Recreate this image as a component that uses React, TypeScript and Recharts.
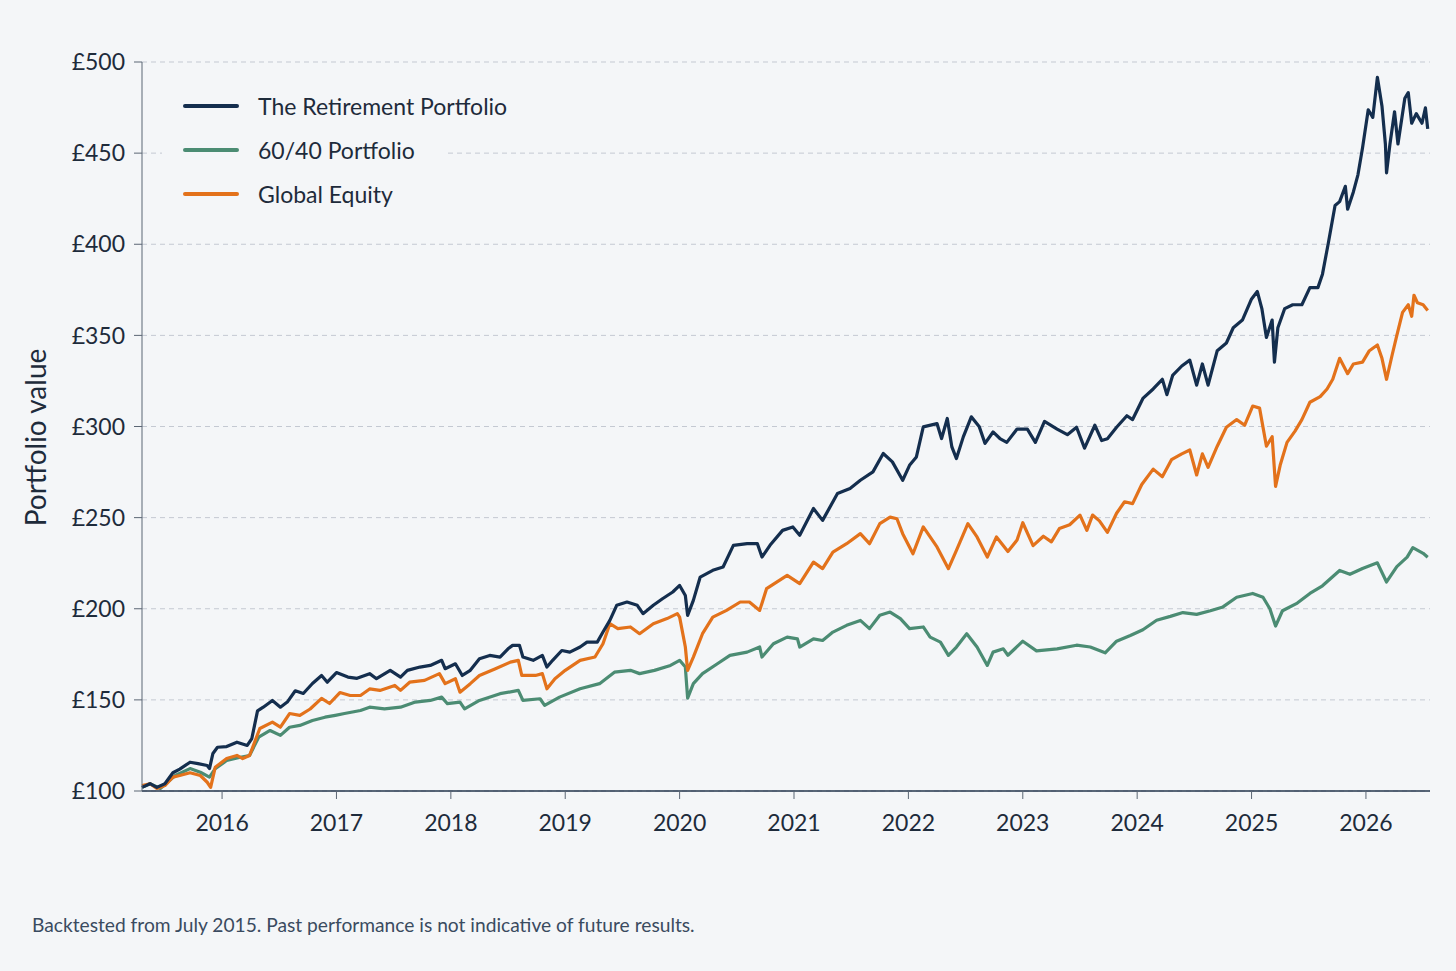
import React from 'react';
import { LineChart, Line, XAxis, YAxis, CartesianGrid } from 'recharts';

// [decimal year, value in £]
const retirementSeries: [number, number][] = [
  [2015.3, 102], [2015.37, 104], [2015.43, 102], [2015.5, 104], [2015.57, 110], [2015.63, 112],
  [2015.72, 115.8], [2015.79, 115], [2015.87, 114], [2015.89, 112.3], [2015.92, 120.6], [2015.96, 124],
  [2016.04, 124.4], [2016.13, 126.8], [2016.22, 125], [2016.26, 128.8], [2016.31, 144], [2016.36, 146],
  [2016.44, 149.7], [2016.51, 146], [2016.57, 148.8], [2016.64, 155], [2016.71, 153.5], [2016.79, 159],
  [2016.87, 163.4], [2016.92, 159.7], [2017.0, 165], [2017.1, 162.5], [2017.18, 161.8], [2017.29, 164.4],
  [2017.35, 161.6], [2017.47, 166.2], [2017.56, 162.5], [2017.62, 166.2], [2017.73, 168], [2017.82, 168.9],
  [2017.92, 171.7], [2017.95, 167.1], [2018.04, 169.8], [2018.1, 163.4], [2018.17, 166.2], [2018.25, 172.6],
  [2018.34, 174.4], [2018.43, 173.5], [2018.5, 178], [2018.54, 179.9], [2018.6, 179.9], [2018.63, 173.5],
  [2018.72, 171.7], [2018.8, 174.4], [2018.84, 168], [2018.89, 171.7], [2018.97, 177.1], [2019.04, 176.2],
  [2019.13, 179], [2019.19, 181.7], [2019.28, 181.7], [2019.33, 187.2], [2019.39, 193.6], [2019.45, 201.9],
  [2019.54, 203.7], [2019.63, 201.9], [2019.68, 197.3], [2019.77, 201.9], [2019.85, 205.5], [2019.94, 209.2],
  [2020.0, 212.8], [2020.05, 207.3], [2020.07, 196.4], [2020.12, 204.6], [2020.18, 217.4], [2020.29, 221.1],
  [2020.38, 222.9], [2020.47, 234.8], [2020.59, 235.7], [2020.68, 235.7], [2020.72, 228.4], [2020.79, 234.8],
  [2020.9, 243], [2020.99, 244.9], [2021.05, 240.3], [2021.17, 255], [2021.25, 248.5], [2021.38, 263.2],
  [2021.49, 266], [2021.58, 270.5], [2021.69, 275.1], [2021.78, 285.2], [2021.86, 280.6], [2021.95, 270.5],
  [2022.01, 278.7], [2022.07, 283.3], [2022.13, 299.8], [2022.25, 301.6], [2022.29, 293.4], [2022.34, 304.4],
  [2022.38, 288.8], [2022.42, 282.4], [2022.48, 294.3], [2022.55, 305.3], [2022.62, 299.8], [2022.67, 290.7],
  [2022.74, 297], [2022.8, 293.4], [2022.86, 291.3], [2022.95, 298.6], [2023.04, 298.6], [2023.11, 291.3],
  [2023.19, 302.8], [2023.3, 298.6], [2023.39, 295.5], [2023.47, 299.6], [2023.54, 288.1], [2023.63, 300.7],
  [2023.69, 292.3], [2023.74, 293.3], [2023.82, 299.6], [2023.91, 305.9], [2023.96, 303.8], [2024.05, 315.4],
  [2024.14, 320.6], [2024.22, 325.9], [2024.26, 317.5], [2024.31, 328], [2024.39, 333.2], [2024.46, 336.4],
  [2024.52, 322.7], [2024.57, 334.3], [2024.62, 322.7], [2024.7, 341.6], [2024.78, 345.8], [2024.84, 354.2],
  [2024.92, 358.4], [2025.0, 370], [2025.05, 374.1], [2025.09, 364.7], [2025.13, 348.9], [2025.18, 358.4],
  [2025.2, 335.3], [2025.23, 354.2], [2025.29, 364.7], [2025.36, 366.8], [2025.44, 366.8], [2025.51, 376.2],
  [2025.58, 376.2], [2025.62, 383.6], [2025.67, 400.3], [2025.73, 421.3], [2025.77, 423.4], [2025.82, 431.8],
  [2025.84, 419.2], [2025.89, 428.7], [2025.93, 438.1], [2025.97, 452.8], [2026.02, 473.8], [2026.06, 469.6],
  [2026.1, 491.6], [2026.14, 475.9], [2026.17, 455], [2026.18, 439.2], [2026.21, 455], [2026.25, 472.7],
  [2026.28, 455], [2026.34, 480.1], [2026.37, 483.2], [2026.4, 466.4], [2026.44, 471.7], [2026.49, 466.4],
  [2026.52, 474.8], [2026.54, 463.3],
];

const sixtyFortySeries: [number, number][] = [
  [2015.3, 102], [2015.37, 104], [2015.46, 101.4], [2015.59, 108.5], [2015.72, 112.3], [2015.81, 110.3],
  [2015.89, 107.6], [2015.94, 112.3], [2016.04, 116.7], [2016.16, 118.5], [2016.24, 119.5], [2016.32, 129.5],
  [2016.42, 133.2], [2016.51, 130.5], [2016.59, 135], [2016.68, 136], [2016.79, 138.7], [2016.9, 140.5],
  [2016.99, 141.5], [2017.07, 142.5], [2017.21, 144.2], [2017.29, 146], [2017.42, 145.1], [2017.56, 146],
  [2017.69, 148.8], [2017.82, 149.7], [2017.92, 151.5], [2017.97, 147.9], [2018.08, 148.8], [2018.12, 145.1],
  [2018.25, 149.7], [2018.43, 153.4], [2018.59, 155.2], [2018.63, 149.7], [2018.78, 150.6], [2018.82, 147],
  [2018.95, 151.5], [2019.13, 156.1], [2019.3, 158.9], [2019.43, 165.2], [2019.57, 166.2], [2019.65, 164.4],
  [2019.78, 166.2], [2019.92, 168.9], [2020.0, 171.7], [2020.05, 168], [2020.07, 151], [2020.12, 158.9],
  [2020.2, 164.4], [2020.33, 169.8], [2020.44, 174.4], [2020.59, 176.2], [2020.7, 179], [2020.72, 173.5],
  [2020.82, 180.8], [2020.94, 184.4], [2021.03, 183.5], [2021.05, 179], [2021.17, 183.5], [2021.25, 182.6],
  [2021.34, 187.2], [2021.46, 190.9], [2021.58, 193.6], [2021.66, 189.1], [2021.75, 196.4], [2021.84, 198.2],
  [2021.93, 194.6], [2022.01, 189.1], [2022.13, 190], [2022.19, 184.4], [2022.28, 181.7], [2022.35, 174.4],
  [2022.42, 179], [2022.51, 186.3], [2022.6, 179], [2022.69, 168.9], [2022.74, 176.2], [2022.83, 178],
  [2022.87, 174.5], [2023.0, 182.2], [2023.12, 176.9], [2023.3, 178], [2023.47, 180], [2023.59, 179],
  [2023.72, 175.8], [2023.82, 182.2], [2023.94, 185.3], [2024.05, 188.5], [2024.17, 193.7], [2024.29, 195.8],
  [2024.4, 197.9], [2024.52, 196.9], [2024.64, 198.9], [2024.75, 201], [2024.87, 206.3], [2025.01, 208.4],
  [2025.1, 206.3], [2025.16, 200], [2025.21, 190.5], [2025.27, 198.9], [2025.4, 203.1], [2025.51, 208.4],
  [2025.62, 212.6], [2025.77, 221], [2025.86, 218.9], [2025.97, 222.1], [2026.1, 225.2], [2026.18, 214.7],
  [2026.27, 223.1], [2026.36, 228.3], [2026.41, 233.5], [2026.5, 230.4], [2026.54, 228.3],
];

const globalEquitySeries: [number, number][] = [
  [2015.3, 103], [2015.37, 104], [2015.43, 101.4], [2015.5, 103], [2015.57, 107.6], [2015.63, 108.5],
  [2015.72, 110], [2015.81, 108.5], [2015.87, 104.8], [2015.9, 102], [2015.94, 113], [2016.04, 117.8],
  [2016.13, 119.5], [2016.18, 117.8], [2016.24, 119.5], [2016.29, 127.7], [2016.33, 134.3], [2016.44, 137.8],
  [2016.51, 135], [2016.59, 142.5], [2016.68, 141.5], [2016.77, 145], [2016.87, 150.8], [2016.94, 148],
  [2017.03, 154], [2017.12, 152.4], [2017.21, 152.4], [2017.29, 156], [2017.38, 155.2], [2017.51, 157.9],
  [2017.56, 155.2], [2017.64, 159.7], [2017.77, 160.7], [2017.9, 164.4], [2017.95, 158.9], [2018.04, 161.6],
  [2018.08, 154.2], [2018.17, 158.9], [2018.25, 163.4], [2018.39, 167.1], [2018.52, 170.7], [2018.59, 171.7],
  [2018.62, 163.4], [2018.74, 163.4], [2018.8, 164.4], [2018.84, 156.1], [2018.91, 161.6], [2019.0, 166.2],
  [2019.13, 171.7], [2019.26, 173.5], [2019.33, 180.8], [2019.39, 191.8], [2019.46, 189.1], [2019.57, 190],
  [2019.65, 186.3], [2019.77, 191.8], [2019.89, 194.6], [2019.98, 197.3], [2020.0, 195.4], [2020.05, 179],
  [2020.07, 166.2], [2020.12, 173.5], [2020.2, 186.3], [2020.29, 195.4], [2020.41, 199.1], [2020.53, 203.7],
  [2020.61, 203.7], [2020.7, 199.1], [2020.76, 211], [2020.94, 218.3], [2021.05, 213.8], [2021.17, 225.6],
  [2021.25, 222], [2021.34, 231.1], [2021.46, 235.7], [2021.58, 241.2], [2021.66, 235.7], [2021.75, 246.7],
  [2021.84, 250.3], [2021.9, 249.4], [2021.95, 241.2], [2022.04, 230.2], [2022.13, 244.9], [2022.25, 233.9],
  [2022.35, 222], [2022.42, 232], [2022.52, 246.7], [2022.6, 239.4], [2022.69, 228.4], [2022.77, 239.4],
  [2022.87, 231.4], [2022.95, 237.7], [2023.0, 247.2], [2023.09, 234.6], [2023.18, 239.8], [2023.25, 236.7],
  [2023.32, 244], [2023.41, 246.1], [2023.5, 251.4], [2023.56, 243], [2023.61, 251.4], [2023.67, 248.2],
  [2023.74, 241.9], [2023.82, 252.4], [2023.89, 258.7], [2023.96, 257.7], [2024.04, 268.2], [2024.14, 276.6],
  [2024.22, 272.4], [2024.3, 281.8], [2024.39, 285], [2024.46, 287.1], [2024.52, 273.4], [2024.57, 285],
  [2024.62, 277.6], [2024.7, 289.2], [2024.78, 299.6], [2024.87, 303.8], [2024.94, 300.7], [2025.01, 311.2],
  [2025.07, 310.1], [2025.13, 289.2], [2025.18, 294.4], [2025.21, 267.1], [2025.25, 278.7], [2025.31, 291.3],
  [2025.38, 297.5], [2025.44, 303.8], [2025.51, 313.3], [2025.6, 316.4], [2025.66, 320.6], [2025.71, 325.9],
  [2025.77, 337.4], [2025.84, 329], [2025.89, 334.3], [2025.97, 335.3], [2026.03, 341.6], [2026.1, 344.7],
  [2026.14, 337.4], [2026.18, 325.9], [2026.23, 339.5], [2026.27, 350], [2026.32, 362.6], [2026.37, 366.8],
  [2026.4, 360.5], [2026.42, 372], [2026.45, 367.9], [2026.5, 366.8], [2026.54, 363.7],
];

const yearTicks = [2016, 2017, 2018, 2019, 2020, 2021, 2022, 2023, 2024, 2025, 2026];
const valueTicks = [100, 150, 200, 250, 300, 350, 400, 450, 500];

const seriesInfo = [
  { key: 'retirement', name: 'The Retirement Portfolio', color: '#142e4e', points: retirementSeries },
  { key: 'sixtyForty', name: '60/40 Portfolio', color: '#4b8c73', points: sixtyFortySeries },
  { key: 'globalEquity', name: 'Global Equity', color: '#e3721b', points: globalEquitySeries },
];

const FONT = 'Lato, "Noto Sans", sans-serif';
const BG = '#f4f6f8';
const TEXT = '#1e2b3b';

// legend sits over the plot, with a background that hides the £450 gridline
function LegendBox() {
  return (
    <div
      style={{
        position: 'absolute',
        left: 162,
        top: 78,
        width: 282,
        height: 146,
        background: BG,
        padding: '6px 0 0 21px',
        boxSizing: 'border-box',
        fontFamily: FONT,
      }}
    >
      {seriesInfo.map((s) => (
        <div
          key={s.key}
          style={{ display: 'flex', alignItems: 'center', height: 44, whiteSpace: 'nowrap' }}
        >
          <div
            style={{
              width: 56,
              height: 4,
              flexShrink: 0,
              borderRadius: 2,
              background: s.color,
              marginRight: 19,
            }}
          />
          <span style={{ fontSize: 23, color: TEXT }}>{s.name}</span>
        </div>
      ))}
    </div>
  );
}

export default function App() {
  const drawOrder = [seriesInfo[1], seriesInfo[2], seriesInfo[0]];
  return (
    <div
      style={{
        position: 'absolute',
        left: 0,
        top: 0,
        width: 1456,
        height: 971,
        background: BG,
        fontFamily: FONT,
      }}
    >
      <LineChart
        width={1456}
        height={900}
        margin={{ top: 62, right: 26, bottom: 79, left: 82 }}
      >
        <CartesianGrid horizontal vertical={false} stroke="#c4c9d2" strokeDasharray="5 4" />
        <XAxis
          type="number"
          dataKey="t"
          domain={[2015.3, 2026.56]}
          ticks={yearTicks}
          allowDuplicatedCategory={false}
          tickLine={{ stroke: '#5b6674' }}
          tickSize={8}
          tickMargin={16}
          axisLine={{ stroke: '#24364d', strokeWidth: 1.5 }}
          tick={{ fill: TEXT, fontSize: 23, fontFamily: FONT }}
          height={30}
        />
        <YAxis
          type="number"
          domain={[100, 500]}
          ticks={valueTicks}
          tickFormatter={(v: number) => `£${v}`}
          tickLine={{ stroke: '#5b6674' }}
          tickSize={8}
          tickMargin={9}
          axisLine={{ stroke: '#5b6674' }}
          tick={{ fill: TEXT, fontSize: 23, fontFamily: FONT }}
          width={60}
          label={{
            value: 'Portfolio value',
            angle: -90,
            position: 'insideLeft',
            offset: 0,
            dx: -46,
            dy: 11,
            style: { fill: TEXT, fontSize: 28, fontFamily: FONT, textAnchor: 'middle' },
          }}
        />
        {drawOrder.map((s) => (
          <Line
            key={s.key}
            data={s.points.map(([t, v]) => ({ t, v }))}
            dataKey="v"
            name={s.name}
            type="linear"
            stroke={s.color}
            strokeWidth={3.2}
            strokeLinejoin="round"
            dot={false}
            activeDot={false}
            isAnimationActive={false}
          />
        ))}
      </LineChart>
      <LegendBox />
      <div
        style={{
          position: 'absolute',
          left: 32,
          top: 913,
          fontSize: 19.2,
          color: '#3a4b60',
          fontFamily: FONT,
        }}
      >
        Backtested from July 2015. Past performance is not indicative of future results.
      </div>
    </div>
  );
}
